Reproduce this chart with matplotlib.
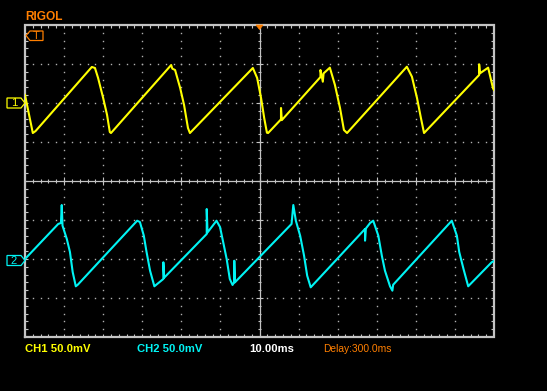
import numpy as np
import matplotlib
matplotlib.use("Agg")
import matplotlib.pyplot as plt
from matplotlib.patches import Polygon

# screen: 12 x 10 ms horizontally, 8 x 50 mV vertically
ch1_t = [-60.0, -58.0, -57.3, -42.9, -42.1, -41.3, -40.0, -39.0,
         -38.3, -38.0, -22.6, -22.3, -21.6, -20.3, -19.3, -18.3, -17.8,
         -1.7, -0.6, 0.4, 1.2, 1.9, 2.2, 5.5, 5.5, 5.7, 15.6, 15.6, 16.2, 16.4, 18.0,
         19.3, 20.6, 21.6, 22.4, 37.7, 39.0, 40.3, 41.3, 42.1, 56.2, 56.2, 56.4,
         58.5, 59.75, 60.0]
ch1_mv = [10.3, -38.5, -36.0, 46.2, 44.9, 32.1, 6.4, -15.4,
          -37.2, -38.5, 48.7, 44.0, 42.3, 19.2, -2.6, -32.1, -38.5,
          44.9, 32.1, 6.4, -19.2, -38.1, -38.5, -21.0, -6.4, -22.0, 33.3, 42.3, 27.3, 38.0, 45.3,
          23.1, -6.4, -34.6, -38.5, 46.5, 33.7, 6.4, -19.2, -38.5, 35.9, 49.6, 38.0,
          45.3, 18.8, 16.7]

ch2_t = [-60.0, -51.5, -50.8, -50.6, -50.4, -49.3, -48.5, -47.8, -47.0, -46.5,
         -31.3, -30.6, -29.6, -28.9, -28.0, -26.9, -24.6, -24.6, -24.4, -13.5, -13.5, -13.3,
         -11.0, -10.1, -9.3, -8.4, -7.6, -6.9, -6.45, -6.45, -6.3, 8.2, 8.65, 9.3, 10.4,
         11.4, 12.2, 13.1, 27.0, 27.0, 27.2, 28.3, 29.1, 30.4, 31.3, 32.1, 33.4, 34.0,
         34.2, 49.2, 50.5, 51.1, 52.2, 53.4, 59.4, 60.0]
ch2_mv = [0.0, 44.9, 46.2, 69.2, 42.7, 25.6, 9.0, -16.7, -35.0, -33.0,
          49.1, 47.4, 29.9, 9.0, -15.0, -35.0, -25.6, -4.2, -24.0, 32.1, 64.1, 34.0,
          49.1, 41.0, 21.8, 0.0, -25.6, -33.3, -29.5, -2.2, -30.0, 44.9, 69.2, 49.1, 29.9,
          4.2, -21.4, -36.3, 38.5, 23.5, 39.0, 46.2, 49.1, 29.9, 4.2, -15.0, -35.0, -40.6,
          -33.0, 49.1, 29.9, 9.0, -12.8, -35.0, -4.2, -2.6]

ch1_offset = 2.0   # divisions
ch2_offset = -2.0
volts_per_div = 50.0

W, H = 547, 391
GRAY = "#c4c4c4"
DOT = "#b0b0b0"
YELLOW = "#ffff00"
CYAN = "#00f4f4"
ORANGE = "#ff7f00"
FONT = ["Liberation Sans", "DejaVu Sans"]


def P(x, y):
    # pixel -> figure fraction
    return (x / W, 1 - y / H)


def draw_graticule(ax):
    # dotted grid
    for gx in [-50, -40, -30, -20, -10, 10, 20, 30, 40, 50]:
        ys = np.arange(-3.8, 3.81, 0.2)
        ax.plot(np.full_like(ys, gx), ys, 's', ms=1.0, mew=0, color=DOT)
    for gy in [-3, -2, -1, 1, 2, 3]:
        xs = np.arange(-58, 58.1, 2)
        ax.plot(xs, np.full_like(xs, gy), 's', ms=1.0, mew=0, color=DOT)

    # centre cross
    ax.plot([-60, 60], [0, 0], color=GRAY, lw=0.9)
    ax.plot([0, 0], [-4, 4], color=GRAY, lw=0.9)
    xm = np.arange(-58, 58.1, 2)
    ax.vlines(xm, -0.05, 0.05, color=GRAY, lw=0.8)
    ax.vlines(np.arange(-50, 51, 10), -0.1, 0.1, color=GRAY, lw=0.8)
    ym = np.arange(-3.8, 3.81, 0.2)
    ax.hlines(ym, -0.5, 0.5, color=GRAY, lw=0.8)
    ax.hlines(np.arange(-3, 4, 1), -1.0, 1.0, color=GRAY, lw=0.8)

    # border ticks pointing inward
    ax.vlines(xm, -4, -3.92, color=GRAY, lw=0.8)
    ax.vlines(xm, 3.92, 4, color=GRAY, lw=0.8)
    ax.hlines(ym, -60, -59.2, color=GRAY, lw=0.8)
    ax.hlines(ym, 59.2, 60, color=GRAY, lw=0.8)

    # border
    ax.plot([-60, 60, 60, -60, -60], [-4, -4, 4, 4, -4], color=GRAY, lw=1.6,
            clip_on=False, solid_joinstyle="miter")


def draw_markers(fig):
    # channel ground markers
    for pts, label, col in [
        ([(7, 98), (21, 98), (25, 103), (21, 108), (7, 108)], "1", YELLOW),
        ([(7, 255.5), (21, 255.5), (25, 260.5), (21, 265.5), (7, 265.5)], "2", CYAN),
    ]:
        fig.add_artist(Polygon([P(*p) for p in pts], closed=True, fill=False,
                               edgecolor=col, lw=0.9, transform=fig.transFigure))
        cy = (pts[0][1] + pts[-1][1]) / 2
        fig.text(*P(14, cy + 0.5), label, color=col, fontsize=8, ha="center", va="center",
                 family=FONT)

    # trigger level marker
    tpts = [(26, 35.5), (30, 31), (43, 31), (43, 40.5), (30, 40.5)]
    fig.add_artist(Polygon([P(*p) for p in tpts], closed=True, fill=False,
                           edgecolor=ORANGE, lw=0.9, transform=fig.transFigure))
    fig.text(*P(36.5, 36), "T", color=ORANGE, fontsize=8, ha="center", va="center",
             family=FONT)

    # trigger position
    fig.add_artist(Polygon([P(256, 25), P(263, 25), P(259.5, 29.5)], closed=True,
                           facecolor=ORANGE, edgecolor=ORANGE, lw=0.5,
                           transform=fig.transFigure))


def draw_text(fig):
    fig.text(*P(25, 17), "RIGOL", color=ORANGE, fontsize=8.6, fontweight="bold",
             va="center", ha="left", family=FONT)
    fig.text(*P(25, 349), "CH1 50.0mV", color=YELLOW, fontsize=8.1, fontweight="bold",
             va="center", ha="left", family=FONT)
    fig.text(*P(137, 349), "CH2 50.0mV", color=CYAN, fontsize=8.1, fontweight="bold",
             va="center", ha="left", family=FONT)
    fig.text(*P(249, 349), "10.00ms", color="white", fontsize=8.1, fontweight="bold",
             va="center", ha="left", family=FONT)
    fig.text(*P(323, 349), "Delay:300.0ms", color=ORANGE, fontsize=7.4,
             va="center", ha="left", family=FONT)


def main():
    fig = plt.figure(figsize=(W / 100, H / 100), dpi=100, facecolor="black")
    ax = fig.add_axes([25 / W, (H - 337) / H, 469 / W, 312 / H])
    ax.set_facecolor("black")
    ax.set_xlim(-60, 60)
    ax.set_ylim(-4, 4)
    ax.axis("off")

    draw_graticule(ax)

    y1 = np.array(ch1_mv) / volts_per_div + ch1_offset
    y2 = np.array(ch2_mv) / volts_per_div + ch2_offset
    ax.plot(ch1_t, y1, color=YELLOW, lw=1.5)
    ax.plot(ch2_t, y2, color=CYAN, lw=1.5)

    draw_markers(fig)
    draw_text(fig)

    fig.savefig("out.png", dpi=100, facecolor="black")


if __name__ == '__main__':
    main()
